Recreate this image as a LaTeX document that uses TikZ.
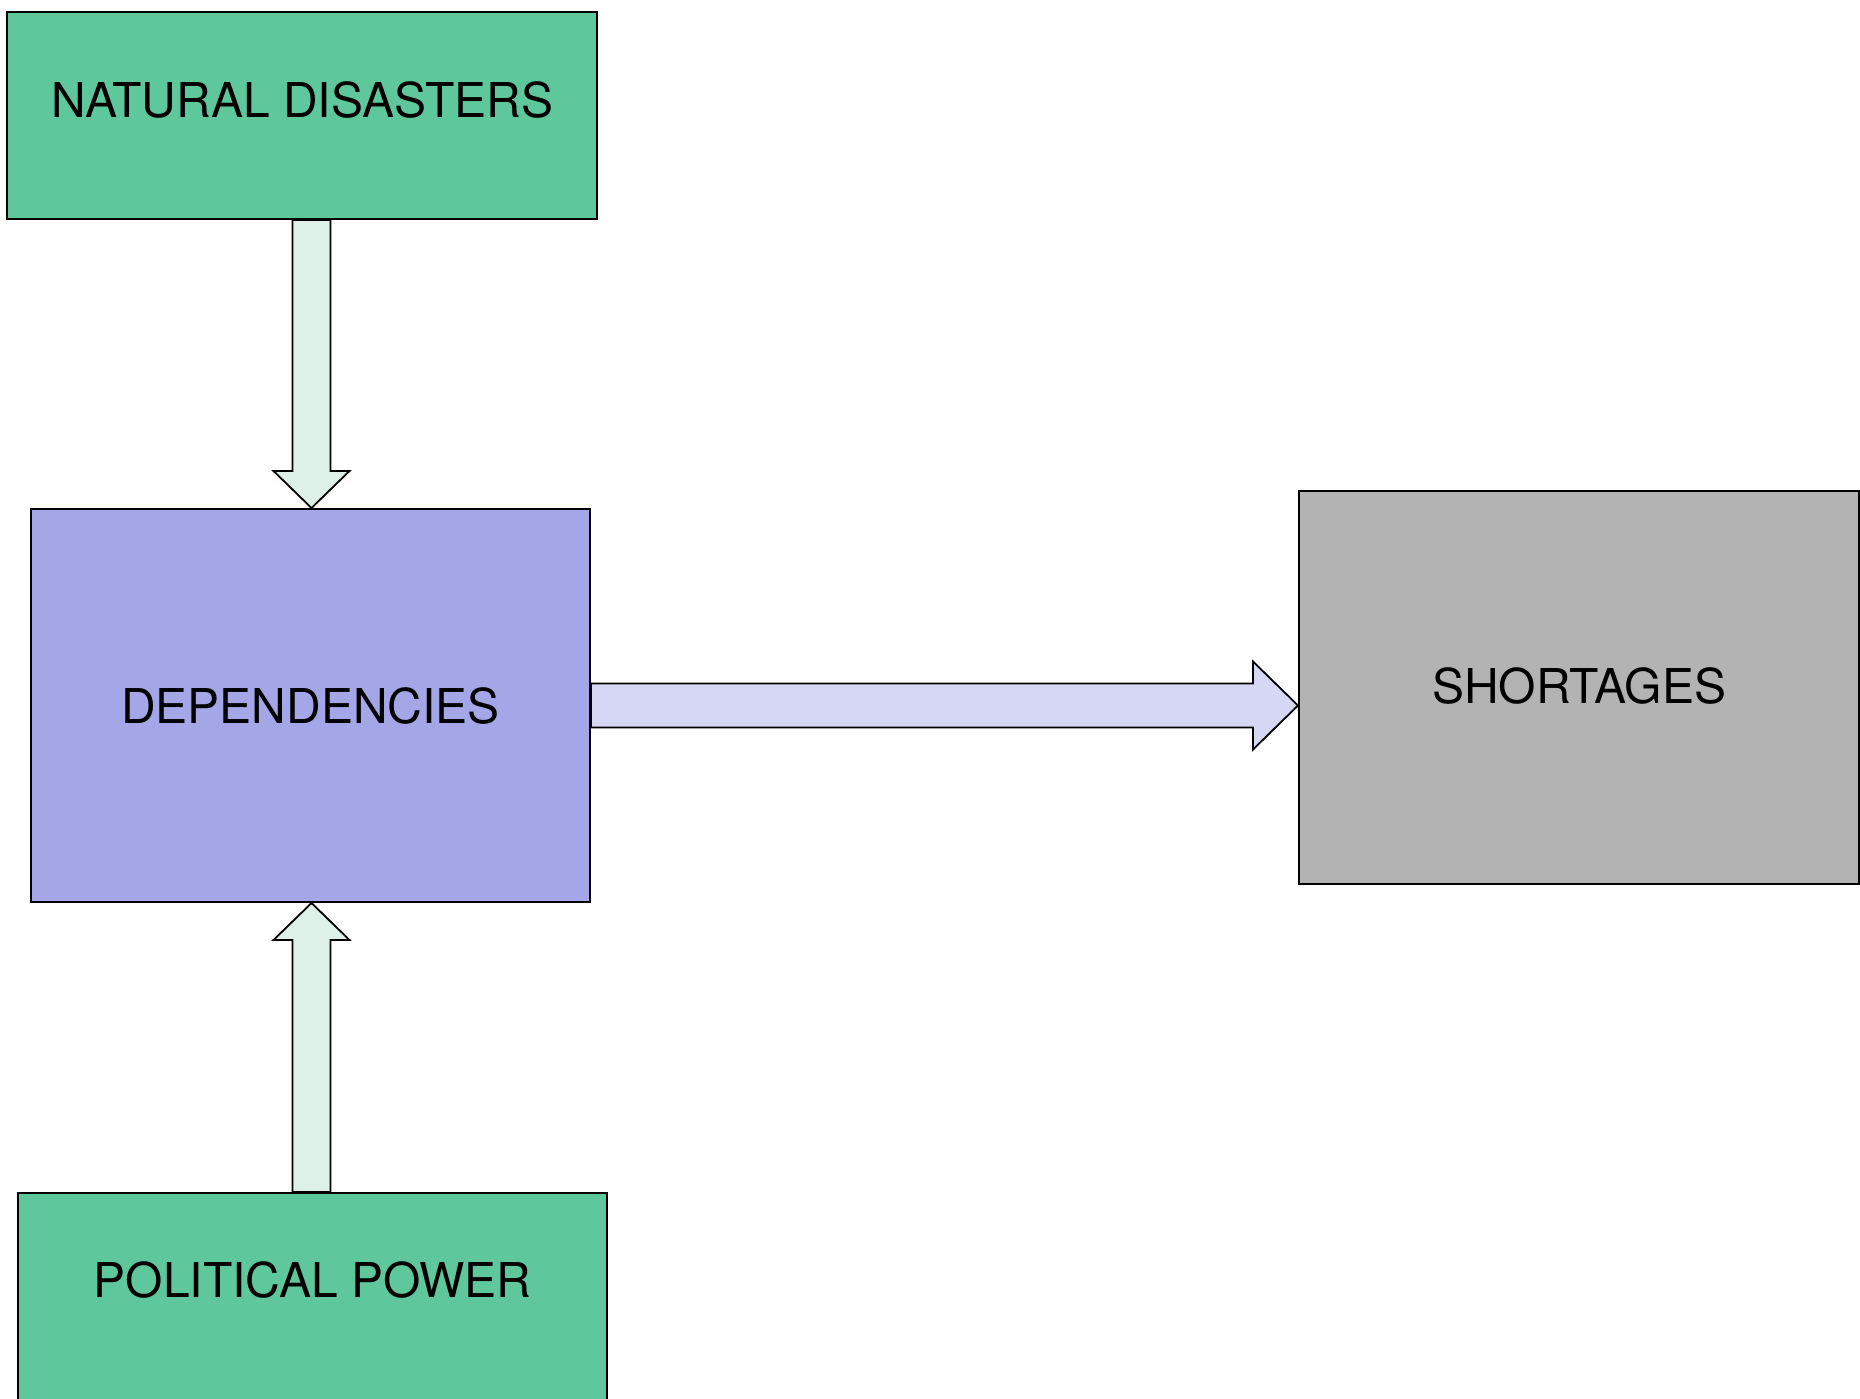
\documentclass[tikz,border=0pt]{standalone}
\usepackage{fontspec}
\setmainfont{TeX Gyre Heros}
\usetikzlibrary{calc}
\definecolor{boxgreen}{RGB}{94,200,156}
\definecolor{boxpurple}{RGB}{165,166,232}
\definecolor{boxgray}{RGB}{179,179,179}
\definecolor{arrgreen}{RGB}{221,241,232}
\definecolor{arrpurple}{RGB}{214,215,244}
\tikzset{
  blockbox/.style={draw=black, line width=1pt, rectangle, inner sep=0pt, anchor=north west},
  blocklabel/.style={font=\fontsize{24}{28}\selectfont, text=black, inner sep=0pt},
  fatarrow/.style={draw=black, line width=0.9pt, line join=miter}
}
\begin{document}
\begin{tikzpicture}[x=0.5pt, y=-0.5pt]
\useasboundingbox (0,0) rectangle (1860,1399);
\fill[white] (0,0) rectangle (1860,1399);
% boxes
\node[blockbox, fill=boxgreen, minimum width=590pt*0.5, minimum height=207pt*0.5] (nd) at (6,11) {};
\node[blockbox, fill=boxpurple, minimum width=559pt*0.5, minimum height=393pt*0.5] (dep) at (30,508) {};
\node[blockbox, fill=boxgray, minimum width=560pt*0.5, minimum height=393pt*0.5] (sh) at (1298,490) {};
\node[blockbox, fill=boxgreen, minimum width=589pt*0.5, minimum height=230pt*0.5] (pp) at (17,1192) {};
% labels
\node[blocklabel] (ndt) at ($(nd.north)+(0,89)$) {NATURAL DISASTERS};
\node[blocklabel] (dept) at (dep.center) {DEPENDENCIES};
\node[blocklabel] (sht) at ($(sh.center)+(0,-2)$) {SHORTAGES};
\node[blocklabel] (ppt) at ($(pp.north)+(0,88)$) {POLITICAL POWER};
% arrow natural -> dependencies
\coordinate (a1s) at ($(dep.north |- nd.south)+(1,0)$);
\coordinate (a1e) at ($(dep.north)+(1,0)$);
\filldraw[fatarrow, fill=arrgreen]
  ($(a1s)+(-19,0)$) -- ($(a1e)+(-19,-37)$) -- ($(a1e)+(-38,-37)$) -- (a1e)
  -- ($(a1e)+(38,-37)$) -- ($(a1e)+(19,-37)$) -- ($(a1s)+(19,0)$) -- cycle;
% arrow political -> dependencies
\coordinate (a2s) at ($(dep.south |- pp.north)+(1,0)$);
\coordinate (a2e) at ($(dep.south)+(1,0)$);
\filldraw[fatarrow, fill=arrgreen]
  ($(a2s)+(-19,0)$) -- ($(a2e)+(-19,37)$) -- ($(a2e)+(-38,37)$) -- (a2e)
  -- ($(a2e)+(38,37)$) -- ($(a2e)+(19,37)$) -- ($(a2s)+(19,0)$) -- cycle;
% arrow dependencies -> shortages
\coordinate (a3s) at (dep.east);
\coordinate (a3e) at (sh.west |- dep.east);
\filldraw[fatarrow, fill=arrpurple]
  ($(a3s)+(0,-22)$) -- ($(a3e)+(-45,-22)$) -- ($(a3e)+(-45,-44)$) -- (a3e)
  -- ($(a3e)+(-45,44)$) -- ($(a3e)+(-45,22)$) -- ($(a3s)+(0,22)$) -- cycle;
\end{tikzpicture}
\end{document}
